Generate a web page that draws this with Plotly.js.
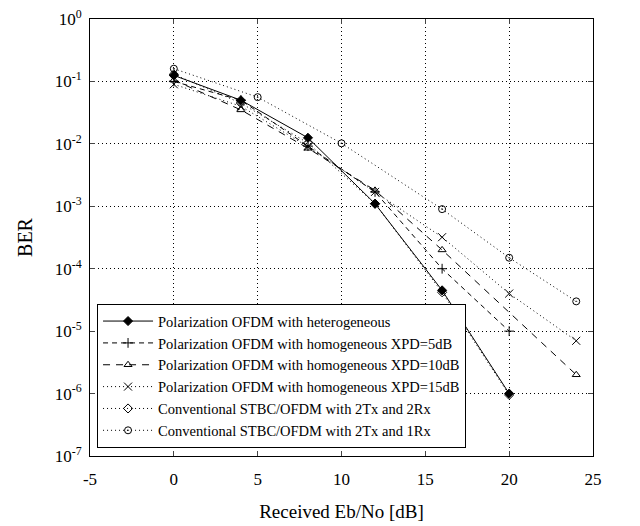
<!DOCTYPE html>
<html>
<head>
<meta charset="utf-8">
<script src="https://cdn.plot.ly/plotly-3.0.1.min.js"></script>
<style>html,body{margin:0;padding:0;background:#fff;}#chart{width:640px;height:526px;}</style>
</head>
<body>
<div id="chart"></div>
<script>
// Series data
const heteroX = [0, 4, 8, 12, 16, 20];
const heteroY = [0.125, 0.05, 0.0125, 0.0011, 4.5e-5, 1.0e-6];

const xpd5X = [0, 4, 8, 12, 16, 20];
const xpd5Y = [0.10, 0.05, 0.0092, 0.0017, 1.0e-4, 1.0e-5];

const xpd10X = [0, 4, 8, 12, 16, 24];
const xpd10Y = [0.105, 0.035, 0.0085, 0.0018, 2.0e-4, 2.0e-6];

const xpd15X = [0, 4, 8, 12, 16, 20, 24];
const xpd15Y = [0.09, 0.04, 0.009, 0.0017, 3.2e-4, 4.0e-5, 7.0e-6];

const stbc2x2X = [0, 4, 8, 12, 16, 20];
const stbc2x2Y = [0.13, 0.045, 0.0103, 0.0011, 4.2e-5, 9.5e-7];

const stbc2x1X = [0, 5, 10, 16, 20, 24];
const stbc2x1Y = [0.16, 0.056, 0.0102, 9.0e-4, 1.5e-4, 3.0e-5];

const seriesNames = [
  "Polarization OFDM with heterogeneous",
  "Polarization OFDM with homogeneous XPD=5dB",
  "Polarization OFDM with homogeneous XPD=10dB",
  "Polarization OFDM with homogeneous XPD=15dB",
  "Conventional STBC/OFDM with 2Tx and 2Rx",
  "Conventional STBC/OFDM with 2Tx and 1Rx"
];

const yTickVals = [1, 0.1, 0.01, 0.001, 1e-4, 1e-5, 1e-6, 1e-7];
const yTickText = ["10<sup>0</sup>", "10<sup>-1</sup>", "10<sup>-2</sup>", "10<sup>-3</sup>",
                   "10<sup>-4</sup>", "10<sup>-5</sup>", "10<sup>-6</sup>", "10<sup>-7</sup>"];
const xTickVals = [-5, 0, 5, 10, 15, 20, 25];
const xTickText = ["-5", "0", "5", "10", "15", "20", "25"];

function mk(x, y, name, dash, symbol, msize) {
  return {
    x: x, y: y, name: name, type: 'scatter', mode: 'lines+markers',
    line: {color: '#000', width: 1, dash: dash},
    marker: {symbol: symbol, size: msize, color: '#000', line: {color: '#000', width: 1}}
  };
}

const traces = [
  mk(heteroX, heteroY, seriesNames[0], 'solid', 'diamond', 7),
  mk(xpd5X, xpd5Y, seriesNames[1], '5px,4px', 'cross-thin-open', 7),
  mk(xpd10X, xpd10Y, seriesNames[2], '7px,6px', 'triangle-up-open', 7),
  mk(xpd15X, xpd15Y, seriesNames[3], '1px,3px', 'x-thin-open', 8),
  mk(stbc2x2X, stbc2x2Y, seriesNames[4], '1px,3px', 'diamond-open', 7),
  mk(stbc2x1X, stbc2x1Y, seriesNames[5], '1px,3px', 'circle-open-dot', 7)
];

const serif = 'Liberation Serif';

const layout = {
  width: 640, height: 526,
  margin: {l: 90, r: 47, t: 19, b: 70},
  paper_bgcolor: '#fff', plot_bgcolor: '#fff',
  font: {family: serif, color: '#000', size: 16},
  showlegend: true,
  legend: {
    x: 0.014, y: 0.018, xanchor: 'left', yanchor: 'bottom',
    bgcolor: '#fff', bordercolor: '#000', borderwidth: 1,
    font: {family: serif, size: 14.5, color: '#000'},
    tracegroupgap: 0, itemwidth: 50
  },
  xaxis: {
    range: [-5, 25], tickvals: xTickVals, ticktext: xTickText, ticks: 'inside', ticklen: 5,
    ticklabelstandoff: 8,
    showline: true, linecolor: '#000', linewidth: 1, mirror: 'all',
    showgrid: true, gridcolor: '#000', gridwidth: 1, griddash: '1px,3px',
    zeroline: false, tickfont: {family: serif, size: 17},
    title: {text: 'Received Eb/No [dB]', font: {family: serif, size: 19}, standoff: 16}
  },
  yaxis: {
    type: 'log', range: [-7, 0], tickvals: yTickVals, ticktext: yTickText,
    ticks: 'inside', ticklen: 5, ticklabelstandoff: 4,
    showline: true, linecolor: '#000', linewidth: 1, mirror: 'all',
    showgrid: true, gridcolor: '#000', gridwidth: 1, griddash: '1px,3px',
    zeroline: false, tickfont: {family: serif, size: 17},
    title: {text: 'BER', font: {family: serif, size: 20}, standoff: 16}
  }
};

Plotly.newPlot('chart', traces, layout, {displayModeBar: false, staticPlot: true});
</script>
</body>
</html>
